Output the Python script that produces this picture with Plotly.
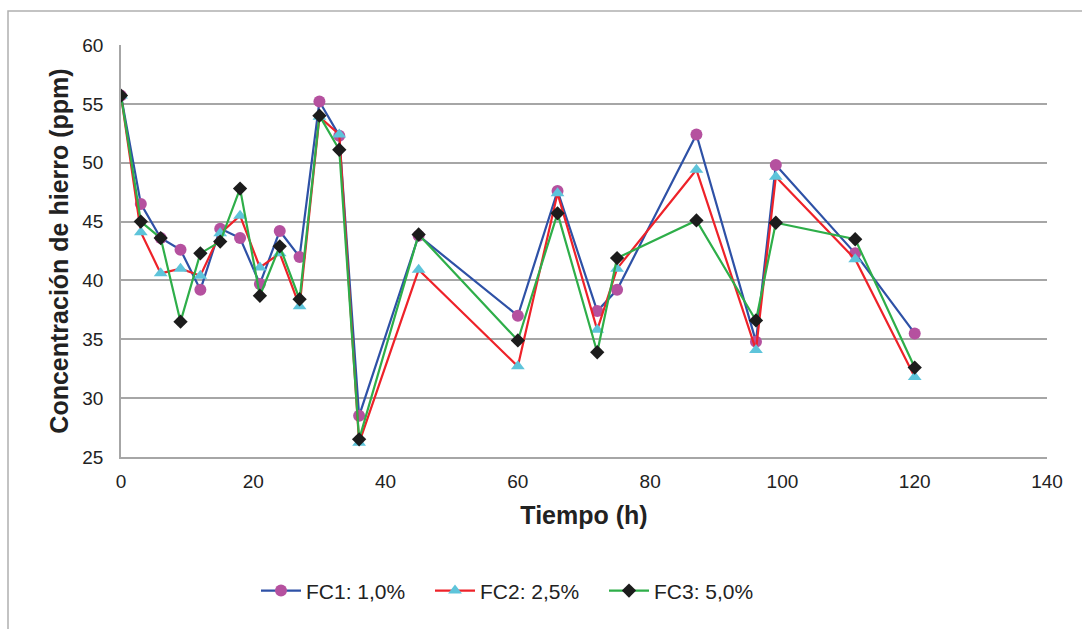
import plotly.graph_objects as go

tiempo = [0, 3, 6, 9, 12, 15, 18, 21, 24, 27, 30, 33, 36, 45, 60, 66, 72, 75, 87, 96, 99, 111, 120]
fc1 = [55.7, 46.5, 43.6, 42.6, 39.2, 44.4, 43.6, 39.7, 44.2, 42.0, 55.2, 52.3, 28.5,
       43.8, 37.0, 47.6, 37.4, 39.2, 52.4, 34.8, 49.8, 42.3, 35.5]
fc2 = [55.7, 44.1, 40.6, 41.0, 40.4, 44.0, 45.5, 41.1, 42.3, 37.8, 53.9, 52.4, 26.2,
       40.9, 32.7, 47.4, 35.8, 41.0, 49.4, 34.1, 48.8, 41.8, 31.8]
fc3 = [55.7, 45.0, 43.6, 36.5, 42.3, 43.3, 47.8, 38.7, 42.9, 38.4, 54.0, 51.1, 26.5,
       43.9, 34.9, 45.7, 33.9, 41.9, 45.1, 36.6, 44.9, 43.5, 32.6]

names = ["FC1: 1,0%", "FC2: 2,5%", "FC3: 5,0%"]
line_colors = ["#2e51a6", "#ee2229", "#2eae49"]
marker_colors = ["#b5519f", "#5ec4da", "#1c1c1c"]
symbols = ["circle", "triangle-up", "diamond"]
sizes = [12, 12, 11]

fig = go.Figure()
for ys, nm, lc, mc, sy, sz in zip([fc1, fc2, fc3], names, line_colors, marker_colors, symbols, sizes):
    fig.add_trace(go.Scatter(
        x=tiempo, y=ys, name=nm, mode="lines+markers",
        line=dict(color=lc, width=2.2),
        marker=dict(color=mc, symbol=sy, size=sz, line=dict(width=0)),
    ))

L, R, T, B = 121, 1047, 45, 457
W, H = 1082, 629
fig.update_layout(
    width=W, height=H,
    margin=dict(l=L, r=W - R, t=T, b=H - B, pad=0),
    paper_bgcolor="white", plot_bgcolor="white",
    font=dict(family="Liberation Sans, Arial, sans-serif", color="#222222", size=19),
    showlegend=True,
    legend=dict(orientation="h", x=(256 - L) / (R - L), y=-0.325, xanchor="left", yanchor="middle",
                font=dict(size=21, color="#222222"), itemwidth=40, traceorder="normal",
                entrywidth=119, entrywidthmode="pixels"),
    xaxis=dict(range=[0, 140], tickvals=[0, 20, 40, 60, 80, 100, 120, 140],
               showgrid=False, zeroline=False, showline=True, linecolor="#a6a6a6", linewidth=1.5,
               ticks="", ticklabelstandoff=6,
               title=dict(text="<b>Tiempo (h)</b>", font=dict(size=25, color="#222222"), standoff=16)),
    yaxis=dict(range=[25, 60], tickvals=[25, 30, 35, 40, 45, 50, 55, 60],
               showgrid=True, gridcolor="#a6a6a6", gridwidth=1.5, zeroline=False,
               showline=True, linecolor="#a6a6a6", linewidth=1.5, ticks="", ticklabelstandoff=12,
               title=dict(text="<b>Concentración de hierro (ppm)</b>", font=dict(size=25, color="#222222"), standoff=7)),
)

# outer chart frame
px2x = lambda p: (p - L) / (R - L)
px2y = lambda p: (B - p) / (B - T)
fig.add_shape(type="rect", xref="paper", yref="paper",
              x0=px2x(8), x1=px2x(1100), y0=px2y(650), y1=px2y(11),
              line=dict(color="#b0b0b0", width=1.5), fillcolor="rgba(0,0,0,0)", layer="below")

fig.write_html("out.html")
